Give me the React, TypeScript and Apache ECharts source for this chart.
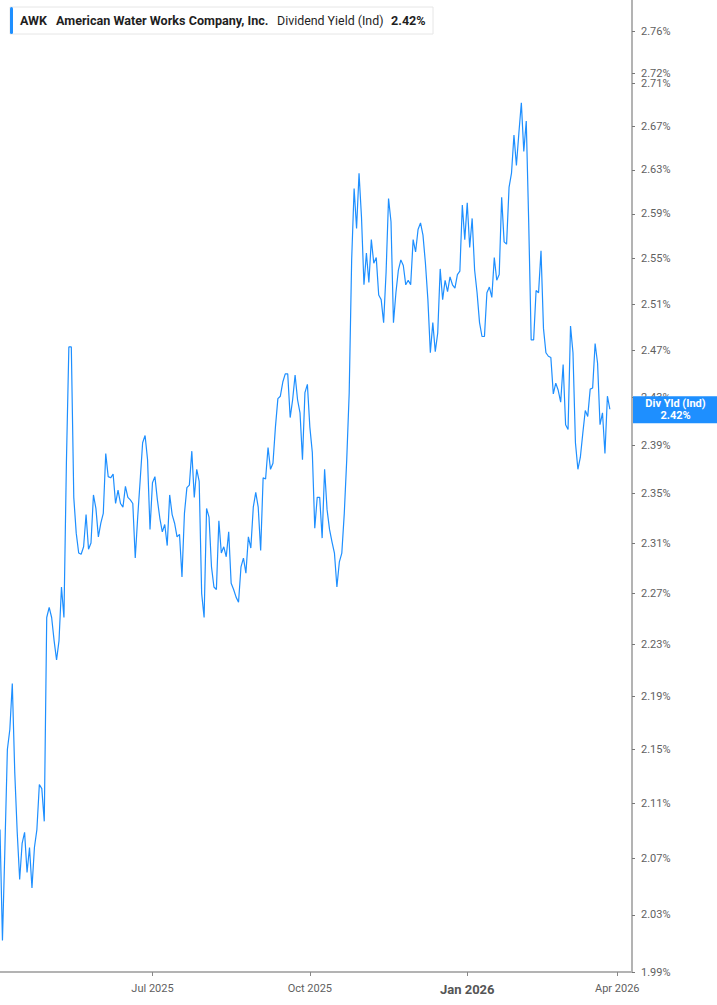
import { useEffect, useRef } from 'react';
import * as echarts from 'echarts';

// first trading day shown and market holidays skipped on the category axis
const startDate = '2025-04-01';
const dayCount = 258;
const holidays = [
  '2025-04-18', '2025-05-26', '2025-06-19', '2025-07-04', '2025-09-01',
  '2025-11-27', '2025-12-25', '2026-01-01', '2026-01-19', '2026-02-16', '2026-04-03',
];

// tick labels on the right axis (dividend yield, %)
const yTickValues = [
  1.99, 2.03, 2.07, 2.11, 2.15, 2.19, 2.23, 2.27, 2.31, 2.35, 2.39,
  2.43, 2.47, 2.51, 2.55, 2.59, 2.63, 2.67, 2.71, 2.72, 2.76,
];
const yMin = 1.99;
const yMax = 2.79;

// months that get a label on the time axis
const labelMonths = [1, 4, 7, 10];
const monthNames = ['Jan', 'Feb', 'Mar', 'Apr', 'May', 'Jun', 'Jul', 'Aug', 'Sep', 'Oct', 'Nov', 'Dec'];

// daily dividend yield (%)
const yieldValues = [
  2.091, 2.012, 2.078, 2.150, 2.165, 2.200, 2.133, 2.089, 2.055, 2.081,
  2.089, 2.060, 2.078, 2.049, 2.078, 2.091, 2.124, 2.121, 2.097, 2.251,
  2.259, 2.251, 2.233, 2.218, 2.233, 2.275, 2.251,
  2.375, 2.473, 2.473, 2.347, 2.318, 2.302, 2.301, 2.307, 2.333, 2.305,
  2.310, 2.349, 2.338, 2.315, 2.326, 2.334, 2.383, 2.364, 2.363, 2.366,
  2.342, 2.353,
  2.342, 2.339, 2.356, 2.347, 2.345, 2.342, 2.298, 2.331, 2.361, 2.392,
  2.398, 2.378, 2.321, 2.359, 2.364, 2.345, 2.330, 2.319, 2.325, 2.308,
  2.349, 2.333, 2.326, 2.315, 2.317, 2.283, 2.334, 2.355, 2.357, 2.385,
  2.347, 2.370, 2.360, 2.270, 2.251, 2.338, 2.331, 2.291, 2.275, 2.273,
  2.328, 2.302, 2.307, 2.299, 2.319, 2.278, 2.273, 2.267, 2.263,
  2.291, 2.298, 2.286, 2.315, 2.306, 2.339, 2.351, 2.339, 2.304, 2.363,
  2.362, 2.388, 2.370, 2.375, 2.405, 2.429, 2.431, 2.443, 2.450, 2.450,
  2.413, 2.428, 2.449, 2.428, 2.417, 2.378, 2.434, 2.441, 2.405, 2.384,
  2.322, 2.347, 2.347, 2.314, 2.370, 2.337, 2.321, 2.311, 2.302, 2.275,
  2.295, 2.302, 2.334, 2.378, 2.434,
  2.549, 2.613, 2.577, 2.627, 2.587, 2.527, 2.555, 2.529, 2.567, 2.546,
  2.551, 2.518, 2.514, 2.494, 2.538, 2.604, 2.583, 2.494, 2.520, 2.540,
  2.549, 2.544, 2.527, 2.531, 2.527, 2.567, 2.556, 2.576, 2.582, 2.571,
  2.546, 2.514, 2.468, 2.494, 2.469, 2.485, 2.541, 2.514, 2.531, 2.521,
  2.534, 2.527, 2.524, 2.536, 2.539, 2.598, 2.567, 2.600,
  2.560, 2.586, 2.540, 2.520, 2.494, 2.482, 2.482, 2.520, 2.525, 2.516,
  2.551, 2.531, 2.536, 2.605, 2.565, 2.563, 2.614, 2.627, 2.662, 2.634,
  2.664, 2.692, 2.647, 2.675, 2.582, 2.479, 2.479, 2.522, 2.520, 2.557,
  2.489, 2.468, 2.465, 2.464, 2.433, 2.442, 2.436, 2.426, 2.458, 2.407,
  2.403, 2.491, 2.468, 2.392, 2.370, 2.380, 2.400, 2.419, 2.414, 2.437,
  2.438, 2.476, 2.459, 2.407, 2.417, 2.383, 2.431, 2.420,
];

const lastYield = 2.42;
const ticker = 'AWK';
const companyName = 'American Water Works Company, Inc.';
const metricName = 'Dividend Yield (Ind)';
const badgeTitle = 'Div Yld (Ind)';

const FONT = 'Roboto, "Noto Sans", Arial, sans-serif';
const BLUE = '#1e8fff';

function buildTradingDays(): string[] {
  const out: string[] = [];
  const d = new Date(startDate + 'T12:00:00Z');
  while (out.length < dayCount) {
    const dow = d.getUTCDay();
    const iso = d.toISOString().slice(0, 10);
    if (dow !== 0 && dow !== 6 && !holidays.includes(iso)) out.push(iso);
    d.setUTCDate(d.getUTCDate() + 1);
  }
  return out;
}

export default function App() {
  const chartRef = useRef<HTMLDivElement>(null);

  useEffect(() => {
    document.body.style.margin = '0';
    if (!chartRef.current) return;
    const chart = echarts.init(chartRef.current, null, { renderer: 'svg' });

    const days = buildTradingDays();
    // first trading day of each labelled month
    const isQuarterStart = (index: number) => {
      if (index === 0) return false;
      const m = Number(days[index].slice(5, 7));
      const prev = Number(days[index - 1].slice(5, 7));
      return m !== prev && labelMonths.includes(m);
    };

    const option = {
      animation: false,
      grid: { left: 0, right: 85, top: 0, bottom: 33, containLabel: false },
      xAxis: {
        type: 'category',
        data: days,
        boundaryGap: false,
        axisLine: { show: true, lineStyle: { color: '#b3b3b3', width: 2 } },
        axisTick: {
          show: true,
          interval: (i: number) => isQuarterStart(i),
          length: 4,
          lineStyle: { color: '#888', width: 1 },
        },
        axisLabel: {
          interval: (i: number) => isQuarterStart(i),
          margin: 11,
          fontFamily: FONT,
          fontSize: 11,
          color: '#5f5f5f',
          formatter: (v: string) => {
            const m = Number(v.slice(5, 7));
            const txt = `${monthNames[m - 1]} ${v.slice(0, 4)}`;
            return m === 1 ? `{b|${txt}}` : txt;
          },
          rich: {
            b: { fontFamily: FONT, fontSize: 13, fontWeight: 'bold', color: '#555' },
          },
        },
        splitLine: { show: false },
      },
      yAxis: {
        type: 'value',
        position: 'right',
        min: Math.log(yMin),
        max: Math.log(yMax),
        axisLine: { show: true, lineStyle: { color: '#b3b3b3', width: 2 } },
        axisTick: {
          show: true,
          customValues: yTickValues.map(v => Math.log(v)),
          length: 3,
          lineStyle: { color: '#777', width: 1 },
        },
        axisLabel: {
          customValues: yTickValues.map(v => Math.log(v)),
          margin: 9,
          fontFamily: FONT,
          fontSize: 11,
          color: '#5f5f5f',
          formatter: (v: number) => Math.exp(v).toFixed(2) + '%',
        },
        splitLine: { show: false },
      },
      series: [
        {
          type: 'line',
          data: yieldValues.map(v => Math.log(v)),
          symbol: 'none',
          lineStyle: { color: BLUE, width: 1.2 },
          silent: true,
        },
      ],
    };

    chart.setOption(option);

    const badgeY = chart.convertToPixel({ yAxisIndex: 0 }, Math.log(lastYield)) as number;
    const axisX = chart.convertToPixel({ xAxisIndex: 0 }, dayCount - 1) as number;

    chart.setOption({
      graphic: [
        {
          type: 'rect',
          shape: { x: 10, y: 7, width: 423, height: 27 },
          style: { fill: '#fff', stroke: '#e6e6e6', lineWidth: 1 },
          z: 100,
        },
        {
          type: 'rect',
          shape: { x: 10, y: 7, width: 3, height: 27, r: 1.5 },
          style: { fill: BLUE },
          z: 101,
        },
        {
          type: 'text', x: 20, y: 20, z: 101,
          style: { text: ticker, fontFamily: FONT, fontSize: 12.5, fontWeight: 'bold', fill: '#1f1f1f', verticalAlign: 'middle' },
        },
        {
          type: 'text', x: 56, y: 20, z: 101,
          style: { text: companyName, fontFamily: FONT, fontSize: 12.6, fontWeight: 'bold', fill: '#1f1f1f', verticalAlign: 'middle' },
        },
        {
          type: 'text', x: 277, y: 20, z: 101,
          style: { text: metricName, fontFamily: FONT, fontSize: 12.4, fill: '#1f1f1f', verticalAlign: 'middle' },
        },
        {
          type: 'text', x: 391, y: 20, z: 101,
          style: { text: lastYield.toFixed(2) + '%', fontFamily: FONT, fontSize: 12.6, fontWeight: 'bold', fill: '#1f1f1f', verticalAlign: 'middle' },
        },
        {
          type: 'rect',
          shape: { x: axisX + 1, y: badgeY - 13, width: 717 - axisX - 1, height: 27 },
          style: { fill: BLUE },
          z: 100,
        },
        {
          type: 'text', x: (axisX + 717) / 2 + 1, y: badgeY - 6, z: 101,
          style: { text: badgeTitle, fontFamily: FONT, fontSize: 11, fontWeight: 'bold', fill: '#fff', align: 'center', verticalAlign: 'middle' },
        },
        {
          type: 'text', x: (axisX + 717) / 2 + 1, y: badgeY + 6, z: 101,
          style: { text: lastYield.toFixed(2) + '%', fontFamily: FONT, fontSize: 11, fontWeight: 'bold', fill: '#fff', align: 'center', verticalAlign: 'middle' },
        },
      ],
    });

    return () => {
      chart.dispose();
    };
  }, []);

  return <div ref={chartRef} style={{ width: '717px', height: '1005px', background: '#fff' }} />;
}
